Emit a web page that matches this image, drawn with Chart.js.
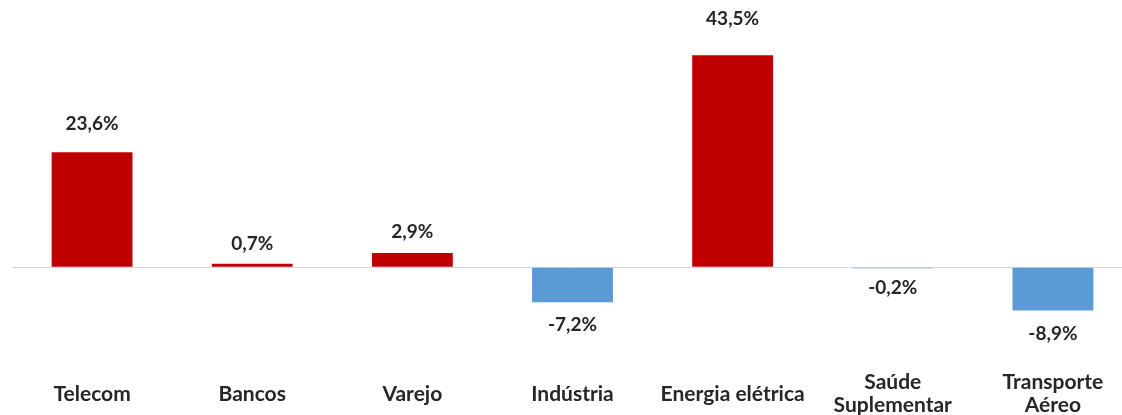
<!DOCTYPE html>
<html>
<head>
<meta charset="utf-8">
<script src="https://cdn.jsdelivr.net/npm/chart.js@4"></script>
<style>
    html, body { margin: 0; padding: 0; background: #fff; overflow: hidden; }
    /* o gráfico é maior que a janela: as margens sobram fora do recorte */
    #wrap { width: 1134px; height: 446px; position: relative; }
</style>
</head>
<body>
<div id="wrap"><canvas id="grafico"></canvas></div>
<script>
// setores e variação (%)
const setores = [
    'Telecom', 'Bancos', 'Varejo', 'Indústria', 'Energia elétrica',
    ['Saúde', 'Suplementar'], ['Transporte', 'Aéreo']
];
const variacao = [23.6, 0.7, 2.9, -7.2, 43.5, -0.2, -8.9];

const VERMELHO = '#C00000';
const AZUL = '#5B9BD5';
const TEXTO = '#262626';

// rótulos de valor acima / abaixo das barras
const rotulos = {
    id: 'rotulos',
    afterDatasetsDraw(chart) {
        const { ctx } = chart;
        const meta = chart.getDatasetMeta(0);
        ctx.save();
        ctx.font = 'bold 19px Lato';
        ctx.fillStyle = TEXTO;
        ctx.textAlign = 'center';
        ctx.textBaseline = 'middle';
        meta.data.forEach((barra, i) => {
            const v = variacao[i];
            const tam = Math.abs(barra.base - barra.y);
            const desloc = 20 + 0.075 * tam;
            const y = v >= 0 ? barra.y - desloc : barra.y + desloc;
            const txt = v.toLocaleString('pt-BR', { minimumFractionDigits: 1 }) + '%';
            ctx.fillText(txt, barra.x, y);
        });
        ctx.restore();
    }
};

new Chart(document.getElementById('grafico'), {
    type: 'bar',
    data: {
        labels: setores,
        datasets: [{
            data: variacao,
            backgroundColor: variacao.map(v => v >= 0 ? VERMELHO : AZUL),
            categoryPercentage: 1,
            barPercentage: 0.505
        }]
    },
    options: {
        responsive: true,
        maintainAspectRatio: false,
        animation: false,
        layout: { padding: { left: 12, right: 1, top: 13.8, bottom: 0 } },
        plugins: {
            legend: { display: false },
            tooltip: { enabled: false }
        },
        scales: {
            x: {
                grid: { display: false, drawTicks: false },
                border: { display: false },
                ticks: {
                    color: TEXTO,
                    font: { family: 'Lato', weight: 'bold', size: 21, lineHeight: 1.08 },
                    padding: 18,
                    crossAlign: 'center',
                    maxRotation: 0,
                    autoSkip: false
                }
            },
            y: {
                min: -20,
                max: 52,
                ticks: { display: false, stepSize: 2 },
                border: { display: false },
                grid: {
                    drawTicks: false,
                    color: c => c.tick && c.tick.value === 0 ? '#D9D9D9' : 'transparent'
                }
            }
        }
    },
    plugins: [rotulos]
});
</script>
</body>
</html>
